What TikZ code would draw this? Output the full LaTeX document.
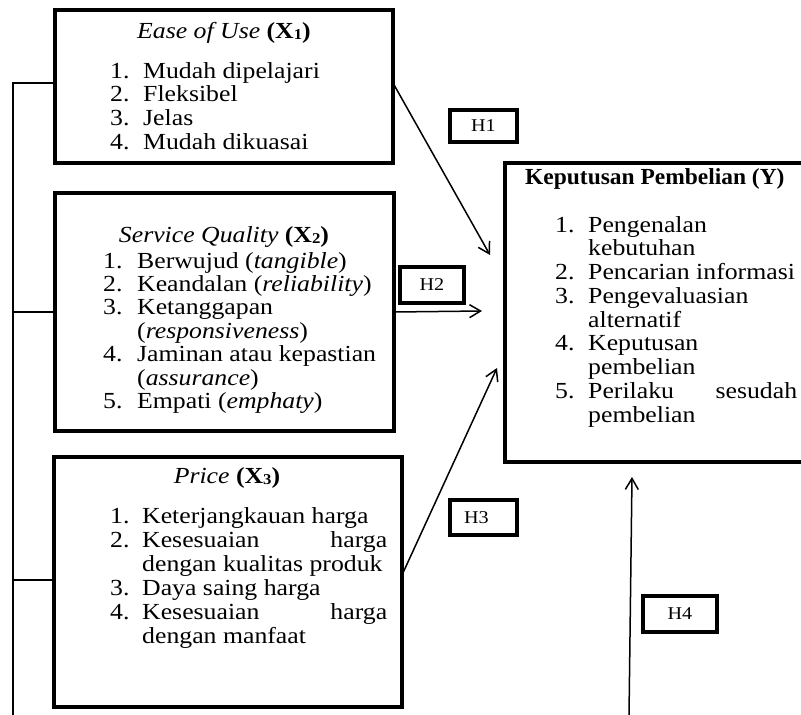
\documentclass[tikz,border=0pt]{standalone}
\usepackage{fontspec}
\setmainfont{Liberation Serif}[FakeStretch=1.12]
\newfontfamily\ytfont{Liberation Serif}[FakeStretch=1.02]
\usetikzlibrary{arrows.meta}
\newcommand\mainfont{\fontsize{23}{23.7}\selectfont}
\newcommand\hfont{\fontsize{18}{20}\selectfont}
\newcommand\subd[1]{\raisebox{-1pt}{\fontsize{15}{15}\selectfont #1}}
\newlength\numw
\newcommand\itm[2]{\hbox{\hbox to \numw{#1\hfil}#2}}
\newcommand\cnt[1]{\hbox{\hskip\numw #1}}
\tikzset{
  bigbox/.style={draw, line width=3.6pt, inner sep=0pt, outer sep=0pt, anchor=north west},
  hbox/.style={draw, line width=3.2pt, inner sep=0pt, outer sep=0pt, font=\hfont},
  link/.style={line width=1.5pt},
  arr/.style={line width=1.5pt, -{Straight Barb[length=11pt,width=13pt,line width=1.5pt]}},
  ttl/.style={anchor=base, inner sep=0pt, font=\mainfont},
  lst/.style={anchor=base west, inner sep=0pt, font=\mainfont, align=left},
}
\begin{document}
\begin{tikzpicture}[x=1pt,y=-1pt]
\useasboundingbox (0,0) rectangle (801,715);
\clip (0,0) rectangle (801,715);
% boxes
\node[bigbox, minimum width=338pt, minimum height=153pt] (X1) at (55,10) {};
\node[bigbox, minimum width=339pt, minimum height=238pt] (X2) at (55,193) {};
\node[bigbox, minimum width=348pt, minimum height=250pt] (X3) at (54,457) {};
\node[bigbox, minimum width=330pt, minimum height=299pt] (Y) at (505,163) {};
% titles
\node[ttl] (t1) at (224,38) {\textit{Ease of Use} \textbf{(X\subd{1})}};
\node[ttl] (t2) at (224,242) {\textit{Service Quality} \textbf{(X\subd{2})}};
\node[ttl] (t3) at (227,483) {\textit{Price} \textbf{(X\subd{3})}};
\node[lst] (t4) at (525,184) {\ytfont\bfseries Keputusan Pembelian (Y)};
% lists
\node[lst] (l1) at (110,78) {\parbox[t]{260pt}{\setlength\numw{33pt}\lineskiplimit=-100pt\baselineskip=23.7pt
  \itm{1.}{Mudah dipelajari}
  \itm{2.}{Fleksibel}
  \itm{3.}{Jelas}
  \itm{4.}{Mudah dikuasai}}};
\node[lst] (l2) at (103,268) {\parbox[t]{280pt}{\setlength\numw{34pt}\lineskiplimit=-100pt\baselineskip=23.4pt
  \itm{1.}{Berwujud (\textit{tangible})}
  \itm{2.}{Keandalan (\textit{reliability})}
  \itm{3.}{Ketanggapan}
  \cnt{(\textit{responsiveness})}
  \itm{4.}{Jaminan atau kepastian}
  \cnt{(\textit{assurance})}
  \itm{5.}{Empati (\textit{emphaty})}}};
\node[lst] (l3) at (110,523) {\parbox[t]{285pt}{\setlength\numw{32pt}\lineskiplimit=-100pt\baselineskip=24pt
  \itm{1.}{Keterjangkauan harga}
  \itm{2.}{\hbox to 245pt{Kesesuaian\hfill harga}}
  \cnt{dengan kualitas produk}
  \itm{3.}{Daya saing harga}
  \itm{4.}{\hbox to 245pt{Kesesuaian\hfill harga}}
  \cnt{dengan manfaat}}};
\node[lst] (l4) at (555,232) {\parbox[t]{250pt}{\setlength\numw{33pt}\lineskiplimit=-100pt\baselineskip=23.75pt
  \itm{1.}{Pengenalan}
  \cnt{kebutuhan}
  \itm{2.}{Pencarian informasi}
  \itm{3.}{Pengevaluasian}
  \cnt{alternatif}
  \itm{4.}{Keputusan}
  \cnt{pembelian}
  \itm{5.}{\hbox to 209pt{Perilaku\hfill sesudah}}
  \cnt{pembelian}}};
% hypothesis labels
\node[hbox, minimum width=67pt, minimum height=32pt] (H1) at (483.5,126) {H1};
\node[hbox, minimum width=64pt, minimum height=36pt] (H2) at (432,285) {H2};
\node[hbox, minimum width=67pt, minimum height=35pt, inner xsep=0pt] (H3) at (483.5,517.5) {\makebox[67pt][l]{\hspace{14pt}H3}};
\node[hbox, minimum width=74pt, minimum height=36pt] (H4) at (680,614) {H4};
% left bracket line
\coordinate (top) at (13,83);
\coordinate (bot) at (13,716);
\draw[link] (bot) -- (top) -- ([yshift=3.5pt]X1.west);
\draw[link] (X2.west -| top) -- (X2.west);
\draw[link] ([yshift=2pt]X3.west -| top) -- ([yshift=2pt]X3.west);
% arrows
\coordinate (a1) at (490,255);
\coordinate (a2) at (482,311);
\coordinate (a3) at (497,368);
\coordinate (a4s) at (629,716);
\coordinate (a4) at (632,477);
\draw[arr] ([yshift=3.5pt]X1.east) -- (a1);
\draw[arr] (X2.east) -- (a2);
\draw[arr] ([yshift=7pt]X3.east) -- (a3);
\draw[arr] (a4s) -- (a4);
\end{tikzpicture}
\end{document}
